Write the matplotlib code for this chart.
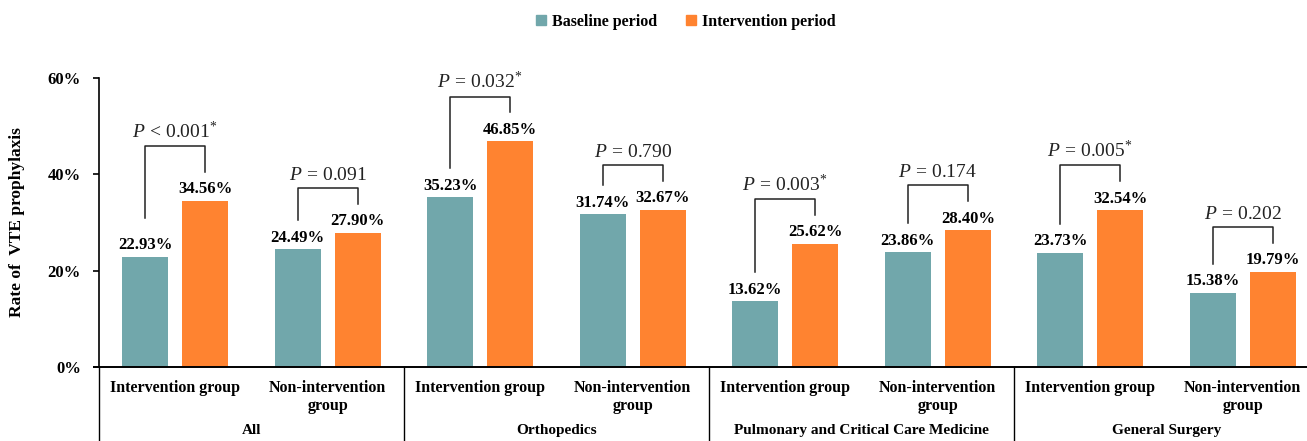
import matplotlib
matplotlib.use('Agg')
import matplotlib.pyplot as plt
import matplotlib.transforms as mtransforms
from matplotlib.ticker import FuncFormatter
from matplotlib.patches import Patch

plt.rcParams['font.family'] = ['Liberation Serif', 'DejaVu Serif']
plt.rcParams['mathtext.fontset'] = 'custom'
plt.rcParams['mathtext.rm'] = 'Liberation Serif'
plt.rcParams['mathtext.it'] = 'Liberation Serif:italic'

# данные
groups = ['All', 'Orthopedics', 'Pulmonary and Critical Care Medicine', 'General Surgery']
subgroups = ['Intervention group', 'Non-intervention\ngroup']
baseline = [22.93, 24.49, 35.23, 31.74, 13.62, 23.86, 23.73, 15.38]
intervention = [34.56, 27.90, 46.85, 32.67, 25.62, 28.40, 32.54, 19.79]
p_ops = ['<', '=', '=', '=', '=', '=', '=', '=']
p_values = ['0.001', '0.091', '0.032', '0.790', '0.003', '0.174', '0.005', '0.202']
significant = [True, False, True, False, True, False, True, False]

teal = '#71A7AB'
orange = '#FF8330'

fig = plt.figure(figsize=(13.07, 4.41), dpi=100)
ax = fig.add_axes([99 / 1307, 74 / 441, 1220 / 1307, 289 / 441])

n = len(baseline)
x = list(range(n))
off = 0.197
w = 0.30
ax.bar([i - off for i in x], baseline, w, color=teal)
ax.bar([i + off for i in x], intervention, w, color=orange)

for i in x:
    ax.annotate(f'{baseline[i]:.2f}%', (i - off, baseline[i]), xytext=(0, 2.5),
                textcoords='offset points', ha='center', va='bottom',
                fontsize=12, fontweight='bold')
    ax.annotate(f'{intervention[i]:.2f}%', (i + off, intervention[i]), xytext=(0, 2.5),
                textcoords='offset points', ha='center', va='bottom',
                fontsize=12, fontweight='bold')

# скобки с p-значениями
leg_gap = 6.0
top_gap = 9.3
for i in x:
    extra = 2.0 if i == 0 else 0.0
    yl = baseline[i] + leg_gap + extra
    yr = intervention[i] + leg_gap
    yt = max(baseline[i], intervention[i]) + top_gap + extra
    ax.plot([i - off, i - off, i + off, i + off], [yl, yt, yt, yr],
            color='#222222', lw=1.1, clip_on=False)
    star = '^{*}' if significant[i] else ''
    ax.annotate(r'$P\,%s\,\mathrm{%s}%s$' % (p_ops[i], p_values[i], star),
                (i, yt), xytext=(0, 3), textcoords='offset points',
                ha='center', va='bottom', fontsize=14, color='#222222')

ax.set_xlim(-0.5, n - 0.5)
ax.set_ylim(0, 60)
ax.set_yticks([0, 20, 40, 60])
ax.yaxis.set_major_formatter(FuncFormatter(lambda v, p: f'{v:.0f}%'))
ax.set_xticks([])
for lab in ax.get_yticklabels():
    lab.set_fontweight('bold')
ax.tick_params(axis='y', labelsize=12, length=4, width=1.2, pad=9)
for s in ['top', 'right']:
    ax.spines[s].set_visible(False)
ax.spines['left'].set_linewidth(1.2)
ax.spines['bottom'].set_linewidth(1.4)
ax.spines['bottom'].set_bounds(-0.53, n - 0.5)

ax.set_ylabel('Rate of  VTE prophylaxis', fontsize=12.5, fontweight='bold')
ax.yaxis.set_label_coords(-0.061, 0.5)

# подписи категорий и разделители
trans = mtransforms.blended_transform_factory(ax.transData, ax.transAxes)
for i in x:
    ax.text(i, -0.045, subgroups[i % 2], transform=trans, ha='center', va='top',
            fontsize=11.5, fontweight='bold', linespacing=1.15)
for g, name in enumerate(groups):
    ax.text(2 * g + 0.5, -0.198, name, transform=trans, ha='center', va='top',
            fontsize=11, fontweight='bold')
    ax.plot([2 * g - 0.5, 2 * g - 0.5], [0, -0.4], transform=trans,
            color='black', lw=1.0, clip_on=False)

handles = [Patch(color=teal, label='Baseline period'),
           Patch(color=orange, label='Intervention period')]
fig.legend(handles=handles, loc='center', bbox_to_anchor=(0.525, 0.95), ncol=2,
           frameon=False, prop={'weight': 'bold', 'size': 11.5},
           handlelength=0.6, handleheight=0.6, handletextpad=0.4, columnspacing=1.8)

fig.savefig('out.png', dpi=100)
